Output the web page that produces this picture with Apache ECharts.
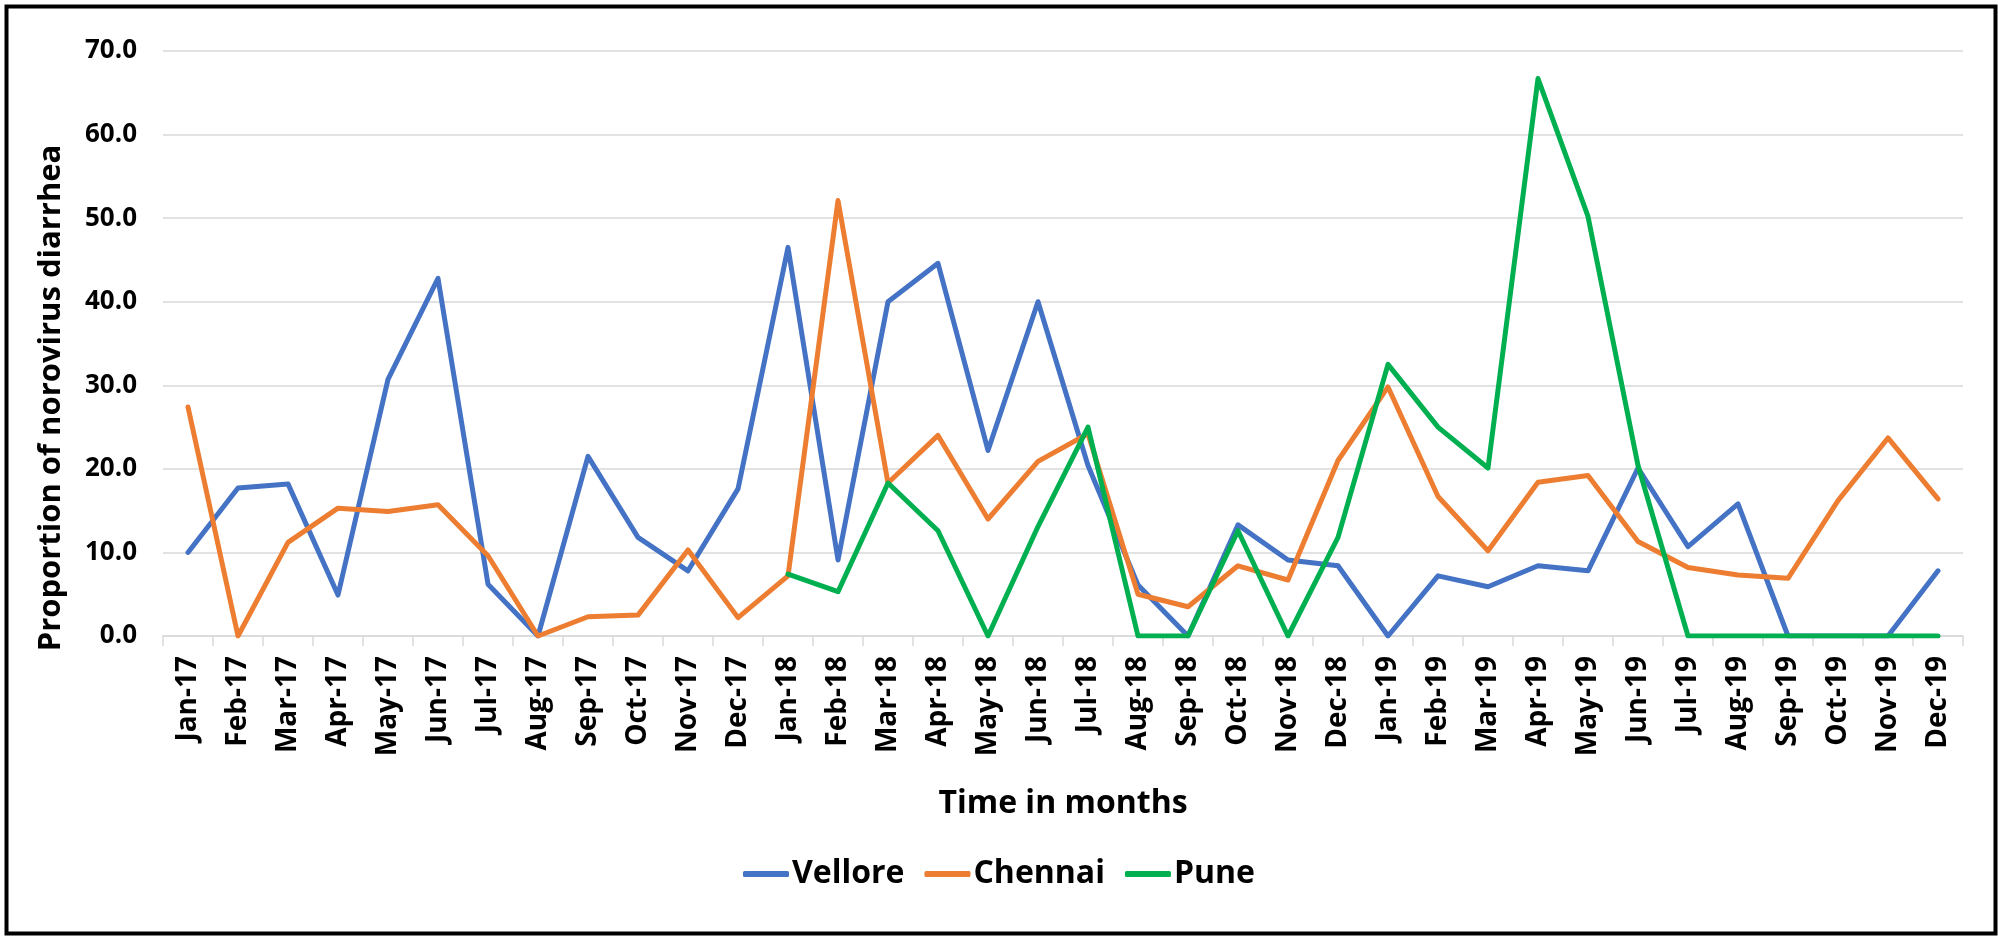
<!DOCTYPE html>
<html>
<head>
<meta charset="utf-8">
<script src="https://cdn.jsdelivr.net/npm/echarts@6/dist/echarts.min.js"></script>
<style>
html,body{margin:0;padding:0;background:#fff;}
#chart{width:1998px;height:936px;}
</style>
</head>
<body>
<div id="chart"></div>
<script>
const months = ['Jan-17','Feb-17','Mar-17','Apr-17','May-17','Jun-17','Jul-17','Aug-17','Sep-17','Oct-17','Nov-17','Dec-17',
  'Jan-18','Feb-18','Mar-18','Apr-18','May-18','Jun-18','Jul-18','Aug-18','Sep-18','Oct-18','Nov-18','Dec-18',
  'Jan-19','Feb-19','Mar-19','Apr-19','May-19','Jun-19','Jul-19','Aug-19','Sep-19','Oct-19','Nov-19','Dec-19'];
const vellore = [10.0,17.7,18.2,4.9,30.7,42.8,6.2,0.0,21.5,11.8,7.8,17.6,
  46.5,9.1,40.0,44.6,22.2,40.0,20.4,6.1,0.0,13.3,9.1,8.4,
  0.0,7.2,5.9,8.4,7.8,20.1,10.7,15.8,0.0,0.0,0.0,7.8];
const chennai = [27.4,0.0,11.2,15.3,14.9,15.7,9.6,0.0,2.3,2.5,10.3,2.2,
  7.2,52.1,18.3,24.0,14.0,20.9,24.2,5.0,3.5,8.4,6.7,21.0,
  29.8,16.7,10.2,18.4,19.2,11.3,8.2,7.3,6.9,16.2,23.7,16.4];
const pune = [null,null,null,null,null,null,null,null,null,null,null,null,
  7.4,5.3,18.3,12.6,0.0,13.1,25.0,0.0,0.0,12.6,0.0,11.8,
  32.5,25.0,20.1,66.7,50.2,20.4,0.0,0.0,0.0,0.0,0.0,0.0];
const yTicks = [0,10,20,30,40,50,60,70];

const chart = echarts.init(document.getElementById('chart'));
const lineStyle = (c) => ({color: c, width: 5, cap: 'round', join: 'round'});
chart.setOption({
  animation: false,
  backgroundColor: '#fff',
  grid: {left: 163, right: 35, top: 51, bottom: 300},
  legend: {
    data: ['Vellore','Chennai','Pune'],
    left: 'center', top: 853,
    icon: 'roundRect', itemWidth: 46, itemHeight: 6, itemGap: 20,
    textStyle: {fontFamily: 'Open Sans', fontWeight: 'bold', fontSize: 32, color: '#000', padding: [0,0,0,-2]}
  },
  xAxis: {
    type: 'category', data: months, boundaryGap: true,
    axisLine: {lineStyle: {color: '#d9d9d9', width: 1.5}},
    axisTick: {show: true, length: 10, lineStyle: {color: '#d9d9d9', width: 1.5}},
    axisLabel: {rotate: 90, interval: 0, margin: 20, fontFamily: 'Open Sans', fontWeight: 'bold', fontSize: 28, color: '#000'},
    name: 'Time in months', nameLocation: 'middle', nameGap: 152,
    nameTextStyle: {fontFamily: 'Open Sans', fontWeight: 'bold', fontSize: 32, color: '#000'}
  },
  yAxis: {
    type: 'value', min: yTicks[0], max: yTicks[yTicks.length-1], interval: 10,
    axisLine: {show: false}, axisTick: {show: false},
    splitLine: {lineStyle: {color: '#d9d9d9', width: 1.5}},
    axisLabel: {margin: 26, fontFamily: 'Open Sans', fontWeight: 'bold', fontSize: 26, color: '#000',
      formatter: v => v.toFixed(1)}
  },
  graphic: [
    {type: 'rect', left: 4, top: 4, shape: {width: 1989, height: 927},
     style: {fill: 'none', stroke: '#000', lineWidth: 4}, z: 100},
    {type: 'text', x: 51, y: 398, rotation: Math.PI/2,
     style: {text: 'Proportion of norovirus diarrhea', fontFamily: 'Open Sans', fontWeight: 'bold', fontSize: 31,
       fill: '#000', align: 'center', verticalAlign: 'middle'}}
  ],
  series: [
    {name: 'Vellore', type: 'line', data: vellore, showSymbol: false, symbol: 'none', lineStyle: lineStyle('#4472C4'), itemStyle: {color: '#4472C4'}},
    {name: 'Chennai', type: 'line', data: chennai, showSymbol: false, symbol: 'none', lineStyle: lineStyle('#ED7D31'), itemStyle: {color: '#ED7D31'}},
    {name: 'Pune', type: 'line', data: pune, showSymbol: false, symbol: 'none', connectNulls: false, lineStyle: lineStyle('#00B050'), itemStyle: {color: '#00B050'}}
  ]
});
</script>
</body>
</html>
